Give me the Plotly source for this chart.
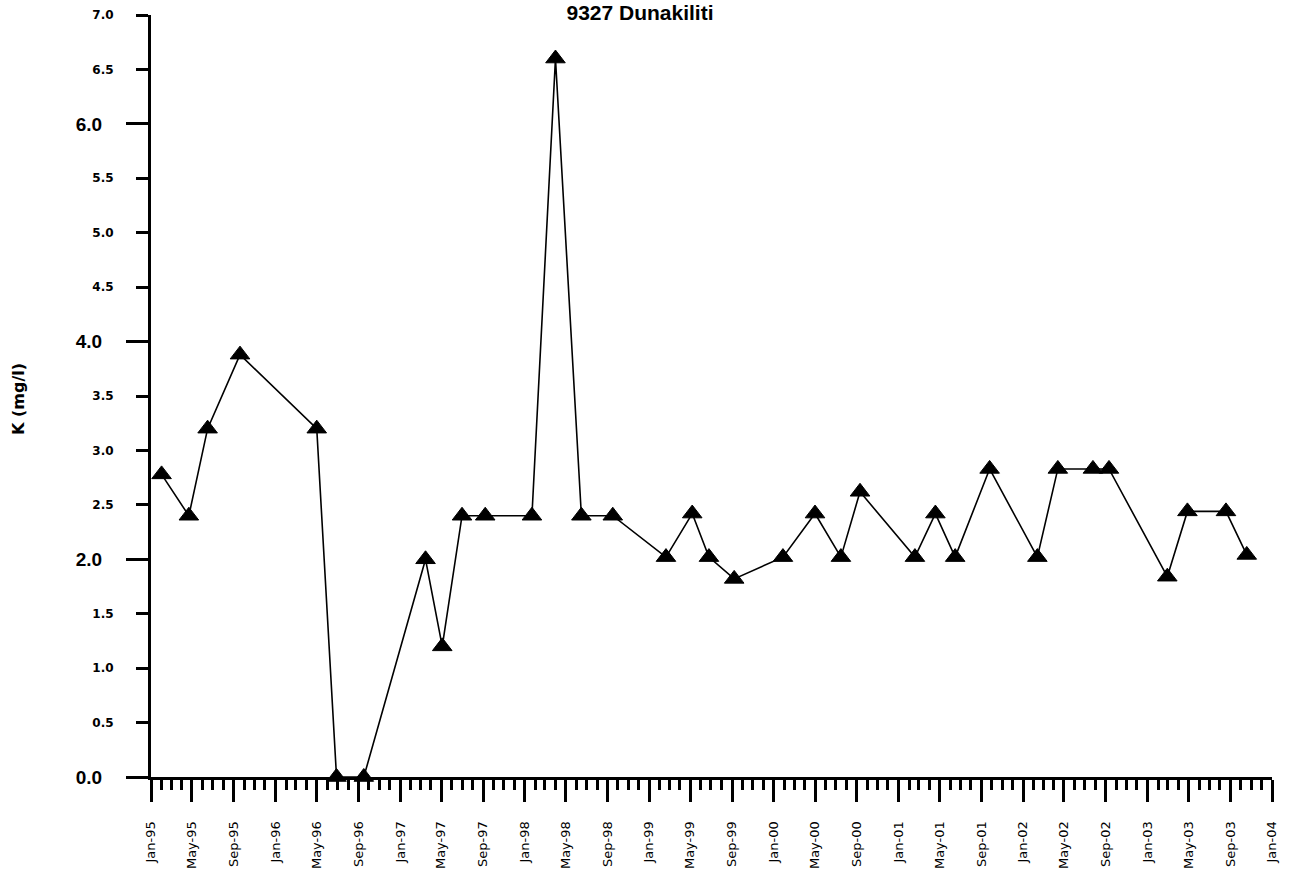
import plotly.graph_objects as go

dates = ["1995-02-01", "1995-04-22", "1995-06-16", "1995-09-19", "1996-05-01",
         "1996-06-28", "1996-09-16", "1997-03-16", "1997-05-04", "1997-07-01",
         "1997-09-07", "1998-01-22", "1998-04-01", "1998-06-16", "1998-09-16",
         "1999-02-19", "1999-05-07", "1999-06-25", "1999-09-07", "2000-01-28",
         "2000-05-01", "2000-07-16", "2000-09-10", "2001-02-18", "2001-04-19",
         "2001-06-16", "2001-09-25", "2002-02-12", "2002-04-13", "2002-07-25",
         "2002-09-10", "2003-02-28", "2003-04-28", "2003-08-19", "2003-10-19"]
k_values = [2.78, 2.4, 3.2, 3.88, 3.2,
            0.0, 0.0, 2.0, 1.2, 2.4,
            2.4, 2.4, 6.6, 2.4, 2.4,
            2.02, 2.42, 2.02, 1.82, 2.02,
            2.42, 2.02, 2.62, 2.02, 2.42,
            2.02, 2.83, 2.02, 2.83, 2.83,
            2.83, 1.84, 2.44, 2.44, 2.04]

small_ticks = [0.5, 1.0, 1.5, 2.5, 3.0, 3.5, 4.5, 5.0, 5.5, 6.5, 7.0]
big_ticks = [0.0, 2.0, 4.0, 6.0]

FONT = "Liberation Sans, Arial, sans-serif"
WIDE = "DejaVu Sans, Verdana, sans-serif"

fig = go.Figure()
# helper trace so the overlay axis (long ticks / big labels) is drawn
fig.add_trace(go.Scatter(
    x=dates, y=k_values, yaxis="y2", mode="lines",
    line=dict(color="rgba(0,0,0,0)", width=0),
    hoverinfo="skip", showlegend=False))
fig.add_trace(go.Scatter(
    x=dates, y=k_values, mode="lines+markers",
    line=dict(color="black", width=1.6),
    marker=dict(symbol="triangle-up", size=17, color="black",
                line=dict(color="black", width=1)),
    cliponaxis=False, showlegend=False))

fig.update_layout(
    width=1292, height=872,
    margin=dict(l=151, r=20, t=15, b=95, autoexpand=False),
    paper_bgcolor="white", plot_bgcolor="white",
    font=dict(family=FONT, color="black"),
    title=dict(text="<b>9327 Dunakiliti</b>", x=(640 / 1292), xanchor="center",
               y=1 - 13 / 872, yanchor="middle", yref="container",
               font=dict(size=21, family=FONT, color="black")),
    xaxis=dict(
        type="date", range=["1995-01-01", "2004-01-01"], automargin=False,
        showgrid=False, zeroline=False,
        showline=True, linecolor="black", linewidth=3,
        ticks="outside", ticklen=22, tickwidth=3, tickcolor="black",
        tick0="1995-01-01", dtick="M4", tickformat="%b-%y",
        tickangle=-90, ticklabelstandoff=14,
        tickfont=dict(size=13, family=WIDE, color="black"),
        minor=dict(ticks="outside", ticklen=10, tickwidth=3, tickcolor="black",
                   dtick="M1", tick0="1995-01-01", showgrid=False),
    ),
    yaxis=dict(
        range=[0, 7], showgrid=False, zeroline=False, automargin=False,
        showline=True, linecolor="black", linewidth=3,
        ticks="outside", ticklen=12, tickwidth=3, tickcolor="black",
        tickvals=small_ticks, ticktext=[f"<b>{v:.1f}</b>" for v in small_ticks],
        ticklabelstandoff=20,
        tickfont=dict(size=12, family=WIDE, color="black"),
    ),
    yaxis2=dict(
        range=[0, 7], overlaying="y", side="left", anchor="x", automargin=False,
        showgrid=False, zeroline=False, showline=False,
        ticks="outside", ticklen=24, tickwidth=3, tickcolor="black",
        tickvals=big_ticks, ticktext=[f"<b>{v:.1f}</b>" for v in big_ticks],
        ticklabelstandoff=20,
        tickfont=dict(size=19, family=FONT, color="black"),
    ),
    annotations=[dict(
        text="<b>K (mg/l)</b>", xref="paper", yref="paper",
        x=(18 - 151) / (1272 - 151), y=(777 - 399) / 762,
        xanchor="center", yanchor="middle", textangle=-90, showarrow=False,
        font=dict(size=16, family=WIDE, color="black"))],
)

fig.write_html("out.html")
